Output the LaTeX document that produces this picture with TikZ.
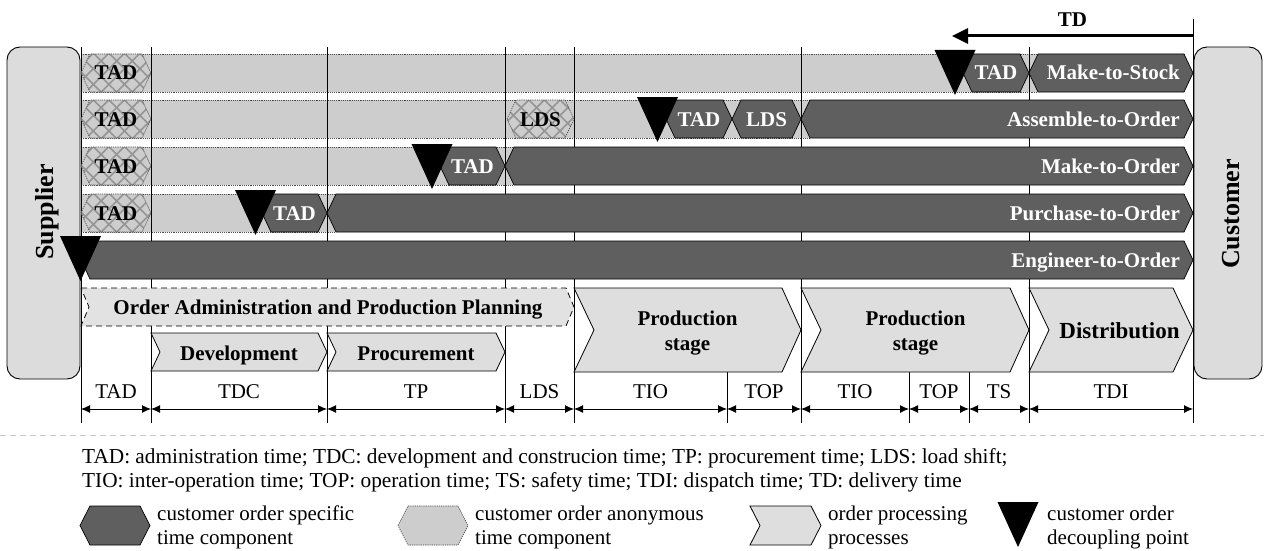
\documentclass[tikz,border=0pt]{standalone}
\usepackage{fontspec}
\setmainfont{Liberation Serif}
\usetikzlibrary{arrows.meta,patterns.meta}
\definecolor{dk}{HTML}{5F5F5F}
\definecolor{lt}{HTML}{CDCDCD}
\definecolor{chv}{HTML}{DEDEDE}
\definecolor{adm}{HTML}{E2E2E2}
\definecolor{boxc}{HTML}{DCDCDC}
\definecolor{sepc}{HTML}{C8C8C8}
\definecolor{hatchc}{HTML}{949494}
\newcommand\myfb{\bfseries\fontsize{21}{25}\selectfont}
\newcommand\myfn{\fontsize{21}{24}\selectfont}
\newcommand\myfl{\fontsize{21.3}{24}\selectfont}
% hexagon: #1 style, #2 x1, #3 x2, #4 ytop (height 38, point depth 9)
\newcommand\hexa[4]{\path[#1] (#2,#4+19) -- (#2+9,#4) -- (#3-9,#4) -- (#3,#4+19) -- (#3-9,#4+38) -- (#2+9,#4+38) -- cycle;}
\newcommand\hatchhex[3]{%
  \hexa{fill=lt}{#1}{#2}{#3}%
  \hexa{pattern={Lines[angle=45,distance=11pt,line width=1.6pt]},pattern color=hatchc}{#1}{#2}{#3}%
  \hexa{pattern={Lines[angle=-45,distance=11pt,line width=1.6pt]},pattern color=hatchc}{#1}{#2}{#3}%
  \hexa{lthexline}{#1}{#2}{#3}}
% decoupling point: #1 x centre, #2 ytop
\newcommand\dcpoint[2]{\fill[black] (#1-20.5,#2) -- (#1+20.5,#2) -- (#1,#2+45) -- cycle;}
\begin{document}
\begin{tikzpicture}[x=1pt,y=-1pt,
  darkhex/.style={fill=dk,draw=black,line width=0.7pt},
  lthexline/.style={draw=black!75,line width=0.6pt,dash pattern=on 1.2pt off 1pt},
  rowline/.style={draw=black!70,line width=0.6pt,dash pattern=on 1.2pt off 1pt},
  vline/.style={draw=black,line width=0.9pt},
  chev/.style={fill=chv,draw=black,line width=0.8pt},
  wlab/.style={text=white,font=\myfb,inner sep=0pt},
  blab/.style={text=black,font=\myfb,inner sep=0pt},
  nlab/.style={text=black,font=\myfn,inner sep=0pt},
  llab/.style={text=black,font=\myfl,inner sep=0pt},
  dim/.style={line width=0.9pt,{Latex[length=9pt,width=8pt]}-{Latex[length=9pt,width=8pt]}},
  sidebox/.style={fill=boxc,draw=black,line width=0.9pt,rounded corners=13pt}]
\useasboundingbox (0,0) rectangle (1264,551);

% light (customer anonymous) row backgrounds
\fill[lt] (81,54) rectangle (1038,92);
\draw[rowline] (81,54) -- (1038,54) (81,92) -- (1038,92);
\fill[lt] (81,100) rectangle (810,138);
\draw[rowline] (81,100) -- (810,100) (81,138) -- (810,138);
\fill[lt] (81,147) rectangle (514,185);
\draw[rowline] (81,147) -- (514,147) (81,185) -- (514,185);
\fill[lt] (81,194) rectangle (336,232);
\draw[rowline] (81,194) -- (336,194) (81,232) -- (336,232);

% vertical time grid lines
\foreach \x in {81,151,327,505,574,801,1029} \draw[vline] (\x,47) -- (\x,423);
\foreach \x in {727,909,969} \draw[vline] (\x,372) -- (\x,423);
\draw[vline] (1193,19) -- (1193,423);

% hatched anonymous components
\hatchhex{81}{151}{54}
\hatchhex{81}{151}{100}
\hatchhex{81}{151}{147}
\hatchhex{81}{151}{194}
\hatchhex{507}{574}{100}
\node[blab,anchor=base] (ha1) at (116,80) {TAD};
\node[blab,anchor=base] (ha2) at (116,126) {TAD};
\node[blab,anchor=base] (ha3) at (116,173) {TAD};
\node[blab,anchor=base] (ha4) at (116,220) {TAD};
\node[blab,anchor=base] (hl2) at (540.5,126) {LDS};

% dark (customer order specific) components
\hexa{darkhex}{963}{1029}{54}
\hexa{darkhex}{1029}{1193}{54}
\hexa{darkhex}{666}{732}{100}
\hexa{darkhex}{732}{801}{100}
\hexa{darkhex}{801}{1193}{100}
\hexa{darkhex}{440}{505}{147}
\hexa{darkhex}{505}{1193}{147}
\hexa{darkhex}{262}{327}{194}
\hexa{darkhex}{327}{1193}{194}
\hexa{darkhex}{81}{1193}{241}

\node[wlab,anchor=base] (t1) at (996,80) {TAD};
\node[wlab,anchor=base east] (mts) at (1180,80) {Make-to-Stock};
\node[wlab,anchor=base] (t2) at (699,126) {TAD};
\node[wlab,anchor=base] (l2) at (766.5,126) {LDS};
\node[wlab,anchor=base east] (ato) at (1180,126) {Assemble-to-Order};
\node[wlab,anchor=base] (t3) at (472.5,173) {TAD};
\node[wlab,anchor=base east] (mto) at (1180,173) {Make-to-Order};
\node[wlab,anchor=base] (t4) at (294.5,220) {TAD};
\node[wlab,anchor=base east] (pto) at (1180,220) {Purchase-to-Order};
\node[wlab,anchor=base east] (eto) at (1180,267) {Engineer-to-Order};

% supplier and customer
\draw[sidebox] (7,47) rectangle (80,379);
\draw[sidebox] (1194,47) rectangle (1262,379);
\node[font=\bfseries\fontsize{26}{30}\selectfont,rotate=90,anchor=base,inner sep=0pt] (sup) at (53,212) {Supplier};
\node[font=\bfseries\fontsize{26}{30}\selectfont,rotate=90,anchor=base,inner sep=0pt] (cus) at (1239,214) {Customer};

% decoupling points
\dcpoint{955}{50}
\dcpoint{657.5}{97}
\dcpoint{432}{144}
\dcpoint{255.5}{190}
\dcpoint{80.5}{236}

% order processing processes
\path[fill=adm,draw=black,line width=0.8pt,dash pattern=on 6pt off 4pt]
  (81,288) -- (566,288) -- (574,307) -- (566,326) -- (81,326) -- (89,307) -- cycle;
\node[blab,anchor=base] (oapp) at (328,314) {Order Administration and Production Planning};
\path[chev] (151,333) -- (318,333) -- (327,352) -- (318,371) -- (151,371) -- (160,352) -- cycle;
\node[blab,anchor=base] (dev) at (239,360) {Development};
\path[chev] (327,333) -- (496,333) -- (505,352) -- (496,371) -- (327,371) -- (336,352) -- cycle;
\node[blab,anchor=base] (proc) at (416,360) {Procurement};
\path[chev] (574,288) -- (782,288) -- (801,330) -- (782,372) -- (574,372) -- (594,330) -- cycle;
\node[blab,anchor=base] (ps1a) at (687.5,325) {Production};
\node[blab,anchor=base] (ps1b) at (687.5,350) {stage};
\path[chev] (801,288) -- (1010,288) -- (1029,330) -- (1010,372) -- (801,372) -- (821,330) -- cycle;
\node[blab,anchor=base] (ps2a) at (915.5,325) {Production};
\node[blab,anchor=base] (ps2b) at (915.5,350) {stage};
\path[chev] (1029,288) -- (1173,288) -- (1193,330) -- (1173,372) -- (1029,372) -- (1049,330) -- cycle;
\node[text=black,font=\bfseries\fontsize{23}{27}\selectfont,inner sep=0pt,anchor=base] (dist) at (1119.5,338) {Distribution};

% time spans
\foreach \n/\x in {0/81,1/151,2/327,3/505,4/574,5/727,6/801,7/909,8/969,9/1029,10/1193}
  \coordinate (d\n) at (\x,409);
\draw[dim] (d0) -- (d1);
\draw[dim] (d1) -- (d2);
\draw[dim] (d2) -- (d3);
\draw[dim] (d3) -- (d4);
\draw[dim] (d4) -- (d5);
\draw[dim] (d5) -- (d6);
\draw[dim] (d6) -- (d7);
\draw[dim] (d7) -- (d8);
\draw[dim] (d8) -- (d9);
\draw[dim] (d9) -- (d10);
\node[nlab,anchor=base] (sTAD) at (116,398) {TAD};
\node[nlab,anchor=base] (sTDC) at (239,398) {TDC};
\node[nlab,anchor=base] (sTP) at (416,398) {TP};
\node[nlab,anchor=base] (sLDS) at (539.5,398) {LDS};
\node[nlab,anchor=base] (sTIO1) at (650.5,398) {TIO};
\node[nlab,anchor=base] (sTOP1) at (764,398) {TOP};
\node[nlab,anchor=base] (sTIO2) at (855,398) {TIO};
\node[nlab,anchor=base] (sTOP2) at (939,398) {TOP};
\node[nlab,anchor=base] (sTS) at (999,398) {TS};
\node[nlab,anchor=base] (sTDI) at (1111,398) {TDI};

% delivery time
\coordinate (tdR) at (1193,36);
\coordinate (tdL) at (952,36);
\draw[line width=3pt,-{Triangle[length=16pt,width=15pt]}] (tdR) -- (tdL);
\node[blab,anchor=base] (td) at (1072.5,27) {TD};

% separator
\draw[sepc,line width=0.8pt,dash pattern=on 6pt off 4pt] (0,435) -- (1264,435);

% legend
\node[llab,anchor=base west] (leg1) at (82,463) {TAD: administration time; TDC: development and construcion time; TP: procurement time; LDS: load shift;};
\node[llab,anchor=base west] (leg2) at (82,487) {TIO: inter-operation time; TOP: operation time; TS: safety time; TDI: dispatch time; TD: delivery time};

\path[darkhex] (80,525.5) -- (90,506) -- (140,506) -- (150,525.5) -- (140,545) -- (90,545) -- cycle;
\node[nlab,anchor=base west] (lga1) at (157,520) {customer order specific};
\node[nlab,anchor=base west] (lga2) at (157,544) {time component};

\path[fill=lt] (398,525.5) -- (408,506) -- (458,506) -- (468,525.5) -- (458,545) -- (408,545) -- cycle;
\path[lthexline] (398,525.5) -- (408,506) -- (458,506) -- (468,525.5) -- (458,545) -- (408,545) -- cycle;
\node[nlab,anchor=base west] (lgb1) at (475,520) {customer order anonymous};
\node[nlab,anchor=base west] (lgb2) at (475,544) {time component};

\path[chev] (750,506) -- (811,506) -- (821,525.5) -- (811,545) -- (750,545) -- (760,525.5) -- cycle;
\node[nlab,anchor=base west] (lgc1) at (828,520) {order processing};
\node[nlab,anchor=base west] (lgc2) at (828,544) {processes};

\dcpoint{1018}{502}
\node[nlab,anchor=base west] (lgd1) at (1047,520) {customer order};
\node[nlab,anchor=base west] (lgd2) at (1047,544) {decoupling point};
\end{tikzpicture}
\end{document}
